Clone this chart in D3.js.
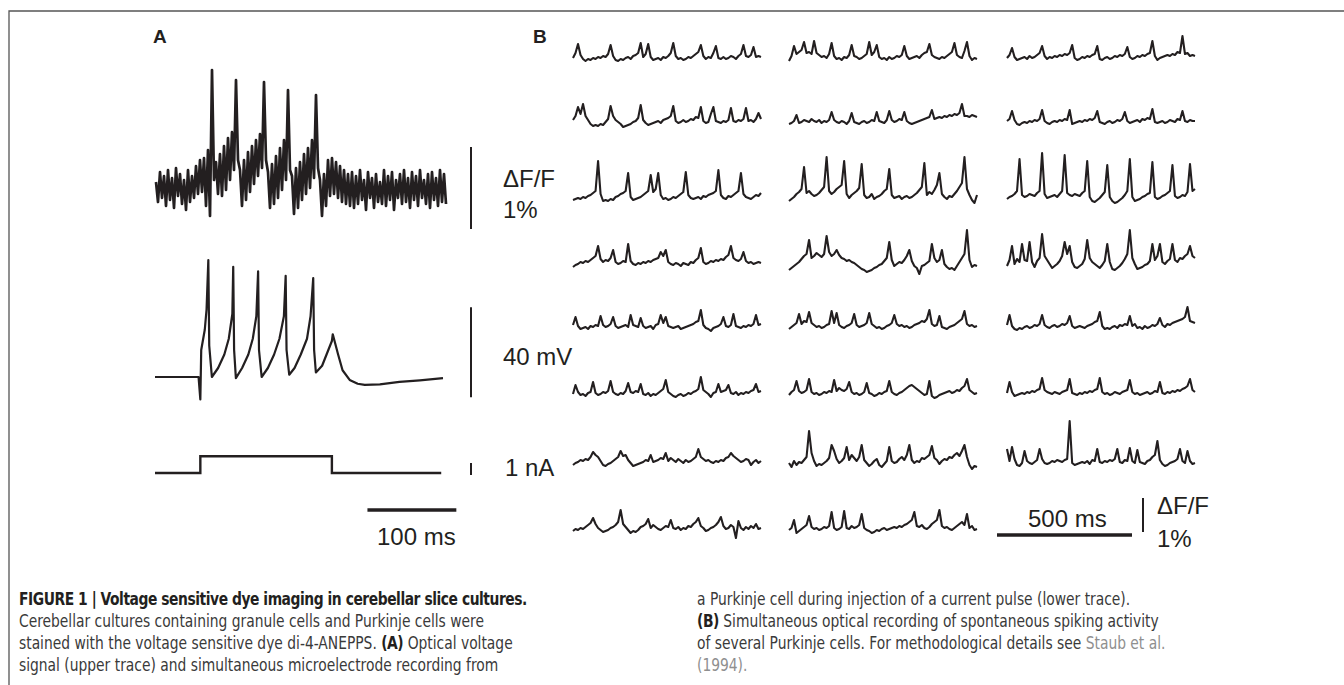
<!DOCTYPE html>
<html>
<head>
<meta charset="utf-8">
<script src="https://cdn.jsdelivr.net/npm/d3@7"></script>
<style>
  html, body { margin: 0; padding: 0; background: #fff; }
  svg { display: block; }
  text { font-family: "Liberation Sans", Arial, sans-serif; fill: #231f20; }
  .cap { font-family: "Liberation Sans Narrow", "DejaVu Sans Condensed", "Liberation Sans", sans-serif; font-size: 17.5px; fill: #3a3a3a; }
  .cap .b { font-weight: bold; fill: #231f20; letter-spacing: -0.5px; }
  .cap .ref { fill: #8f8f8f; }
</style>
</head>
<body>
<svg id="fig" width="1344" height="685"></svg>
<script>
// Panel A, optical trace: upper / lower edge of the noisy band (px-like units, 82 = 1% dF/F)
const opticalHigh = [8, 18, 14, 20, 12, 22, 16, 10, 20, 14,
  24, 30, 32, 40, 120, 28, 36, 44, 52, 58,
  110, 20, 30, 38, 44, 50, 56, 108, 18, 26,
  34, 42, 50, 100, 14, 22, 28, 36, 42, 50,
  95, 10, 16, 30, 32, 28, 24, 20, 16, 18,
  14, 20, 10, 18, 12, 16, 8, 20, 14, 18,
  10, 16, 20, 12, 18, 14, 20, 10, 16, 18,
  12, 20, 16];
const opticalLow = [-12, -8, -16, -10, -18, -6, -14, -20, -12, -8,
  -4, -2, -16, -26, 10, -4, -6, 0, 10, 20,
  30, -16, -10, -2, 6, 14, 22, 30, -18, -14,
  -8, 0, 10, 20, -24, -18, -10, -4, 2, 12,
  22, -26, -16, -6, -4, -8, -12, -14, -16, -18,
  -14, -10, -20, -8, -18, -12, -14, -16, -10, -20,
  -8, -14, -12, -18, -10, -16, -8, -14, -18, -10,
  -16, -12, -14];

// Panel A, microelectrode recording (ms, mV above rest)
const vmTime = [0, 49, 51, 52, 56, 58, 60, 61, 64,
  71, 78, 83, 87, 88, 89, 91,
  98, 105, 110, 114, 116, 117, 120,
  127, 134, 140, 145, 147, 148, 151,
  157, 164, 171, 175, 178, 179, 181,
  188, 194, 199, 200, 206, 211, 219, 228, 236, 253, 275, 298, 324];
const vmValue = [0, 0, -10, 12, 21, 30, 52, 14, 0,
  4, 10, 17, 28, 49, 12, -0.5,
  4, 10, 17, 27, 47, 12, 0,
  4, 10, 17, 27, 45, 12, 1,
  4, 10, 17, 27, 44, 12, 2,
  5, 11, 16, 19, 10, 3, -1.3, -3, -3.5, -3.3, -2.2, -1.5, -0.5];

// Panel A, injected current (ms, nA)
const stepTime = [0, 51, 51, 199, 199, 322];
const stepValue = [0, 0, 1.4, 1.4, 0, 0];

// Panel B layout of the 3 x 8 recordings
const rowBaseline = [58, 122, 197, 264, 327, 394, 463, 530];
const colStart = [573, 789, 1007];

// Panel B traces (px-like units, 34 = 1% dF/F), one list per column, top row first
const traceCol1 = [
  [0, 5, 14, 3, -1, -3, -1, -2, 0, -1, 1, 0, 2, 1, 4, 13, 2, -2, -3, -1, -2, 0, 1, -1, 2, 3, 5, 15, 1, 4, 14, 1, -2, -1, 0, -2, 1, 0, 2, 5, 15, 2, -1, 0, -2, -1, 1, 0, 2, 4, 6, 13, 2, -1, 1, 0, 5, 12, 0, -1, 1, -1, 0, 2, 1, -1, 2, 4, 13, 2, 1, 3, 11, 1, 2, 1],
  [2, 6, 15, 8, 18, 6, 2, -2, -4, -3, -4, -2, -3, 0, 3, 16, 6, 2, 0, -2, -5, -4, -3, -2, 0, 1, 4, 17, 2, -1, -3, -2, -1, 0, 1, -1, 2, 3, 4, 6, 16, 1, -1, 0, 2, 0, 1, 3, 2, 5, 4, 15, 1, -1, 0, 8, 15, 1, 0, -1, 1, 0, 2, 14, 1, 0, 2, 1, 3, 14, 1, 2, 0, 3, 9, 3],
  [-3, -2, -1, -2, 0, -1, 1, 2, 4, 6, 36, 3, -4, -3, -4, -2, -3, 0, 1, 3, 4, 6, 24, 0, -3, -2, -1, 0, 2, 4, 6, 22, 5, 8, 24, 2, -2, -1, -3, -2, 0, -1, 1, 3, 5, 25, 2, -1, -2, -1, 0, -2, 1, 0, 2, 3, 4, 6, 27, 2, -1, -2, 1, 0, 2, 4, 6, 24, 3, 0, -1, -2, 0, 2, 1, 4],
  [-3, -1, 0, 2, 1, 3, 2, 4, 6, 8, 18, 5, 2, 4, 3, 6, 14, 2, 0, 1, 3, 2, 20, 3, 0, -1, 1, 0, 2, 1, 3, 2, 4, 5, 6, 12, 8, 14, 2, 0, -1, 1, 0, -2, 1, 0, -1, 2, 1, 4, 6, 16, 2, 0, 1, 3, 2, 4, 3, 5, 4, 7, 9, 18, 6, 4, 3, 5, 12, 3, 1, 2, 0, 1, 2, 1],
  [2, 10, 1, -2, -1, 0, -2, 1, 0, 2, 1, 11, 2, 0, 1, 3, 10, 1, -1, 0, 1, 2, 0, 12, 2, 1, 0, 9, 1, -1, 0, 1, -2, 2, 3, 12, 4, 10, 1, 0, -1, 0, 1, -2, -1, 0, 1, 2, 3, 5, 6, 17, 2, -1, -2, -4, -1, 0, 1, 3, 10, 1, 0, 2, 13, 1, 0, -1, 1, 0, 2, 1, 3, 12, 2, 3],
  [0, 9, 2, -1, 0, -2, 1, 2, 12, 1, -1, 0, 2, 1, 3, 13, 2, 0, -1, 1, 0, 3, 11, 2, 1, 3, 2, 10, 0, -1, 1, -2, 0, -1, 1, 3, 5, 14, 2, 0, -2, -3, -1, 0, -2, -1, 1, 0, 2, 3, 5, 17, 4, 2, 0, -3, 1, 2, 10, 2, 3, 4, 9, 1, 0, 2, -1, 1, 0, 2, 1, 3, 4, 10, 2, 3],
  [-2, 0, 1, 3, 2, 4, 3, 6, 11, 8, 6, 2, -2, -3, -1, 0, 2, 4, 6, 12, 7, 8, 3, 0, -3, -2, -1, 0, 1, 3, 2, 8, 1, 2, 3, 5, 4, 10, 2, 5, 3, 1, 4, 2, 0, 3, 1, 2, 4, 6, 14, 6, 4, 2, 3, 1, 0, 2, 1, 3, 2, 5, 6, 10, 7, 5, 3, 1, 2, 4, 3, -2, 1, 3, 0, 2],
  [-1, 1, 0, 2, 1, 3, 5, 7, 12, 6, 2, 0, -2, -1, 0, 2, 3, 5, 8, 20, 6, 3, 0, -3, -1, -2, 0, 3, 4, 6, 11, 2, 5, 3, 1, 0, 2, 4, 3, 10, 2, 1, 3, 0, 2, 1, 4, 3, 6, 8, 12, 4, 2, -1, 0, 2, 3, 5, 8, 13, 4, 1, 2, 5, 3, -8, 9, 2, 0, 3, 1, 4, 2, 6, 1, 2]
];
const traceCol2 = [
  [-3, 2, 12, 4, 6, 8, 16, 5, 6, 4, 17, 5, 3, 1, 2, 0, 4, 15, 2, -1, 0, -2, 1, 0, 3, 13, 2, 1, -1, 0, 2, 4, 16, 3, 6, 13, 1, -1, 0, -2, 1, -1, 0, 2, 1, 3, 12, 2, -1, 0, 1, 2, 0, 3, 5, 6, 14, 3, 1, 0, -1, 1, 0, 2, 4, 6, 15, 3, 1, 0, 7, 16, 2, -2, 0, -1],
  [-2, -1, 1, 7, -1, 0, 2, 1, 0, 3, 1, 0, 2, -1, 1, 0, 2, 10, 2, 0, -1, 1, 0, -2, 1, 9, 0, -1, -2, 0, 1, -1, 0, 2, 1, 10, 1, 0, -1, 2, 11, 2, 0, 1, 3, 2, 10, 1, -1, -2, -1, 0, 1, 2, 3, 4, 5, 12, 3, 4, 5, 4, 6, 5, 7, 6, 8, 7, 9, 18, 6, 6, 5, 7, 6, 5],
  [-4, -2, 0, 3, 5, 8, 30, 4, 6, 3, 1, 2, 4, 7, 10, 40, 6, 3, 5, 8, 10, 12, 36, 3, -1, 2, 4, 6, 9, 33, 2, -1, 0, 3, -2, 0, 1, 3, 6, 8, 28, 2, -1, 0, 1, -2, 0, 1, -1, 0, 2, 4, 7, 10, 34, 2, 5, 3, 7, 12, 24, 3, 0, -2, 1, 0, 3, 6, 10, 14, 40, 8, 2, -3, -6, 2],
  [-6, -4, -2, 0, 2, 5, 8, 10, 24, 6, 8, 11, 9, 7, 10, 28, 12, 8, 10, 14, 9, 6, 5, 3, 4, 2, 1, -1, -3, -5, -6, -8, -7, -6, -4, -3, -1, 0, 3, 6, 22, 4, -2, 0, 2, 1, 4, 8, 14, 3, -2, -4, -10, -2, -1, 1, 3, 20, 6, 2, 4, 14, 0, -3, -5, -4, -6, -2, 2, 6, 10, 34, 4, -3, -1, -2],
  [-2, 0, 2, 4, 13, 3, 6, 5, 15, 4, 2, 0, 1, -1, 0, 2, 3, 16, 4, 14, 2, 0, -1, 1, 2, 4, 13, 2, 0, 1, 2, 4, 14, 3, 1, -1, 0, -2, -1, 1, 2, 4, 12, 3, 1, 2, 0, 1, -1, 0, 2, 3, 4, 6, 5, 8, 17, 3, 1, 2, 11, 0, -1, -2, 0, 1, 2, 4, 6, 8, 16, 3, 1, 2, 0, 1],
  [-1, 2, 4, 13, 3, 1, 2, 4, 15, 2, 0, 1, -1, 0, 2, 1, 3, 2, 14, 3, 6, 4, 3, 5, 12, 2, 0, 1, -1, 0, 2, 11, 1, 0, -2, -1, 1, 0, 2, 3, 13, 2, 0, -1, 1, 2, 4, 6, 8, 9, 7, 5, 3, 1, -1, 0, 13, -2, -4, -3, -1, 0, 1, 2, 3, 1, 2, 4, 3, 6, 8, 15, 4, 2, 0, 1],
  [0, -4, 2, -2, 1, 0, 3, 6, 32, 10, 2, -3, -1, -2, 0, 2, 5, 18, 12, 4, 0, 2, 5, 16, 3, 8, 5, 2, 6, 18, 3, 0, -3, -1, 2, 4, -2, -4, -1, 2, 16, 2, 0, 1, 4, 6, 3, 8, 18, 3, 0, 2, 1, 5, 4, 6, 8, 17, 5, 3, -1, 2, 4, 3, 6, 5, 8, 10, 7, 12, 18, 6, -2, -6, -3, -4],
  [0, 2, 10, -3, -1, 1, 3, 5, 14, 3, 1, 2, 0, 1, 3, 2, 4, 18, 2, 0, 1, 3, 19, 2, 1, 4, 2, 3, 5, 16, 2, 0, -1, -3, -2, 0, -1, 1, 2, 0, 1, 2, 3, 2, 4, 3, 5, 6, 8, 10, 18, 4, 3, 5, 2, 1, 3, 6, 8, 10, 20, 4, 2, 3, 1, 0, 2, 4, 6, 8, 5, 16, 2, 4, 0, 1]
];
const traceCol3 = [
  [0, 3, 10, 1, -2, -1, 0, 1, -1, 2, 0, 1, 3, 5, 12, 2, -1, 1, 0, 2, 1, 3, 2, 4, 3, 5, 13, 0, -2, -1, 1, 0, 2, 1, 3, 4, 12, -1, -2, 0, 1, -1, 0, 2, 1, 3, 2, 4, 11, 1, -1, 0, 2, 1, 3, 2, 4, 5, 17, 2, -2, 0, 1, 2, 3, 2, 4, 3, 6, 5, 22, 4, 5, 2, 3, 2],
  [1, 3, 11, 2, -2, -3, -1, 0, -1, 1, 0, 2, 1, 3, 12, 1, -1, -2, 0, 1, 0, 2, 1, 3, 2, 12, -2, -1, 0, 1, 0, 2, 1, 3, 2, 4, 11, 0, -1, -2, 0, 1, -1, 0, 2, 1, 3, 10, 1, -1, 0, 1, 2, 0, 3, 2, 4, 3, 13, 0, -1, 0, 1, -1, 0, 2, 1, 0, 3, 2, 11, 1, 0, 2, 1, 1],
  [-2, 0, 1, 3, 6, 38, 2, 0, 1, 3, 2, 1, 4, 6, 44, 3, -1, 0, 1, 2, 0, 3, 6, 42, 4, 2, 1, 3, 2, 1, 4, 6, 36, 0, -4, -5, -3, -1, 2, 5, 32, 0, -4, -6, -5, -3, -1, 2, 6, 38, 0, -4, -3, -2, 0, 1, 3, 4, 35, 0, -2, -1, 1, 2, 4, 6, 32, 1, -1, 0, 2, 1, 5, 33, 6, 8],
  [-2, 4, 18, 0, 5, 2, 20, 4, 3, 22, 2, -3, 3, 6, 30, 8, 4, 0, -4, -2, 0, 3, 8, 22, 10, 18, 2, -3, -4, -2, 0, 5, 24, 6, 2, 0, -2, -4, -1, 3, 20, 2, -5, -6, -4, -2, 1, 5, 10, 34, 6, 0, -5, -4, -3, -1, 0, 3, 20, 4, 8, 20, 2, 0, 3, 5, 20, 4, 2, 6, 5, 8, 10, 18, 8, 6],
  [2, 12, 1, -2, -3, -1, -2, 0, 1, -1, 0, 2, 1, 3, 12, 2, 0, -1, 1, 2, 0, 1, 3, 2, 4, 11, 1, -1, 0, 1, 0, -1, 1, 2, 3, 5, 6, 15, 1, -2, -1, -2, 0, 1, -1, 2, 1, 3, 2, 11, 1, 3, -1, 0, -2, 1, -1, 0, 2, 1, 3, 9, 2, 0, 3, 2, 4, 5, 6, 7, 8, 10, 20, 6, 5, 4],
  [1, 12, 2, -2, -1, 0, 1, 0, 2, 1, 3, 2, 4, 5, 16, 4, 2, 1, 0, 2, 1, 0, 2, 3, 4, 15, 1, 0, -1, 1, 0, 2, 1, 3, 2, 4, 5, 16, 2, 0, 1, -1, 0, 2, 1, 0, 2, 3, 4, 14, 2, 0, 1, -1, 0, 1, 2, 0, 1, 3, 2, 12, 1, 0, 2, 1, 3, 2, 4, 3, 5, 6, 8, 15, 4, 2],
  [14, 2, 16, 4, -2, -3, 0, 12, 2, 0, -1, 1, 3, 14, 4, 0, -1, 0, 2, 1, 3, 2, 1, 3, 4, 42, 0, -2, -1, 0, 1, 0, 2, -1, 3, 2, 14, 1, 0, 2, 1, 3, 2, 4, 14, 1, 0, 3, 2, 15, 2, 0, 13, 1, 0, -1, 2, 3, 6, 8, 22, 3, -1, -3, -2, 0, 1, 2, 4, 14, 2, 0, 12, 2, -1, 0]
];

const captionLeft = [
  [{ t: "FIGURE 1 | Voltage sensitive dye imaging in cerebellar slice cultures.", c: "b" }],
  [{ t: "Cerebellar cultures containing granule cells and Purkinje cells were" }],
  [{ t: "stained with the voltage sensitive dye di-4-ANEPPS. " }, { t: "(A)", c: "b" }, { t: " Optical voltage" }],
  [{ t: "signal (upper trace) and simultaneous microelectrode recording from" }]
];
const captionRight = [
  [{ t: "a Purkinje cell during injection of a current pulse (lower trace)." }],
  [{ t: "(B)", c: "b" }, { t: " Simultaneous optical recording of spontaneous spiking activity" }],
  [{ t: "of several Purkinje cells. For methodological details see " }, { t: "Staub et al.", c: "ref" }],
  [{ t: "(1994).", c: "ref" }]
];

const ink = "#231f20";
const svg = d3.select("#fig");

// page frame (top and left rule)
svg.append("path")
  .attr("d", "M9,685V11H1344")
  .attr("fill", "none")
  .attr("stroke", "#555")
  .attr("stroke-width", 1.3);

function addLabel(x, y, txt, size, weight) {
  return svg.append("text")
    .attr("x", x).attr("y", y)
    .attr("font-size", size)
    .attr("font-weight", weight || "normal")
    .text(txt);
}

function addBar(x1, y1, x2, y2, w) {
  svg.append("line")
    .attr("x1", x1).attr("y1", y1).attr("x2", x2).attr("y2", y2)
    .attr("stroke", ink).attr("stroke-width", w);
}

// ---------- Panel A ----------
addLabel(153, 43, "A", 19, "bold");

const xA = d3.scaleLinear().domain([0, 324]).range([155, 443]);
const xOpt = d3.scaleLinear().domain([0, opticalHigh.length - 1]).range([156, 444]);
const yOpt = d3.scaleLinear().domain([0, 82]).range([190, 108]);
const yVm = d3.scaleLinear().domain([0, 40]).range([377, 287]);
const yI = d3.scaleLinear().domain([0, 1]).range([473, 461]);

// optical band: alternate between upper and lower edge
const zig = [];
opticalHigh.forEach((h, i) => {
  zig.push([i, h]);
  zig.push([i + 0.5, opticalLow[i]]);
});
svg.append("path")
  .datum(zig)
  .attr("d", d3.line().x((d) => xOpt(d[0])).y((d) => yOpt(d[1])))
  .attr("fill", "none")
  .attr("stroke", ink)
  .attr("stroke-width", 2.7)
  .attr("stroke-linejoin", "round");

svg.append("path")
  .datum(vmTime.map((t, i) => [t, vmValue[i]]))
  .attr("d", d3.line().x((d) => xA(d[0])).y((d) => yVm(d[1])))
  .attr("fill", "none")
  .attr("stroke", ink)
  .attr("stroke-width", 2.2)
  .attr("stroke-linejoin", "round");

svg.append("path")
  .datum(stepTime.map((t, i) => [t, stepValue[i]]))
  .attr("d", d3.line().x((d) => xA(d[0])).y((d) => yI(d[1])))
  .attr("fill", "none")
  .attr("stroke", ink)
  .attr("stroke-width", 2.4);

// scale bars A
addBar(471, yOpt(-39), 471, yOpt(43), 2);
addLabel(503, 187, "\u0394F/F", 24);
addLabel(503, 218, "1%", 24);

addBar(471, yVm(-9), 471, yVm(31), 2);
addLabel(503, 365, "40 mV", 24);

addBar(471, yI(-0.17), 471, yI(0.83), 2);
addLabel(505, 476, "1 nA", 24);

addBar(xA(239), 510, xA(339), 510, 3.5);
addLabel(377, 545, "100 ms", 24);

// ---------- Panel B ----------
addLabel(533, 43, "B", 19, "bold");

[traceCol1, traceCol2, traceCol3].forEach((col, c) => {
  col.forEach((trace, r) => {
    const x = d3.scaleLinear().domain([0, trace.length - 1]).range([colStart[c], colStart[c] + 188]);
    const y = d3.scaleLinear().domain([0, 34]).range([rowBaseline[r], rowBaseline[r] - 34]);
    svg.append("path")
      .datum(trace)
      .attr("d", d3.line().x((d, i) => x(i)).y((d) => y(d)))
      .attr("fill", "none")
      .attr("stroke", ink)
      .attr("stroke-width", 2.1)
      .attr("stroke-linejoin", "round");
  });
});

// scale bars B
const msScale = d3.scaleLinear().domain([0, 500]).range([997, 1132]);
const yBar = d3.scaleLinear().domain([0, 34]).range([532, 498]);
addBar(msScale(0), 535, msScale(500), 535, 3.5);
addLabel(1028, 527, "500 ms", 24);
addBar(1143, yBar(0), 1143, yBar(34), 2);
addLabel(1157, 514, "\u0394F/F", 24);
addLabel(1157, 547, "1%", 24);

// ---------- caption ----------
// the journal uses a condensed face, so squeeze the text horizontally
function caption(lines, x) {
  lines.forEach((parts, i) => {
    const t = svg.append("text")
      .attr("class", "cap")
      .attr("transform", `translate(${x},${605 + i * 22}) scale(0.88,1)`);
    parts.forEach((p) => {
      t.append("tspan").attr("class", p.c || null).text(p.t);
    });
  });
}
caption(captionLeft, 19);
caption(captionRight, 697);
</script>
</body>
</html>
